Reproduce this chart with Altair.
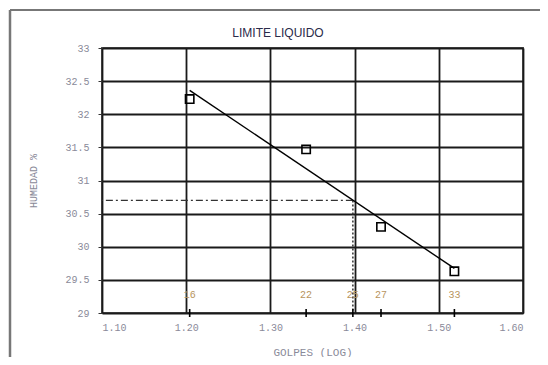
import altair as alt
import pandas as pd

# data
golpes = [16, 22, 27, 33]
humedad = [32.23, 31.47, 30.30, 29.63]
golpes_ll = [25]
limite_liquido = [30.7]
label_golpes = [16, 22, 25, 27, 33]

x_ticks = [1.10, 1.20, 1.30, 1.40, 1.50, 1.60]
y_ticks = [29, 29.5, 30, 30.5, 31, 31.5, 32, 32.5, 33]

pts = pd.DataFrame({"golpes": golpes, "humedad": humedad})
ll = pd.DataFrame({"golpes": golpes_ll, "ll": limite_liquido})
lab = pd.DataFrame({"golpes": label_golpes})
one = pd.DataFrame({"k": [0]})

MONO = "Liberation Mono"
W, H = 421, 265

xs = alt.Scale(domain=[1.10, 1.60], nice=False, zero=False)
ys = alt.Scale(domain=[29, 33], nice=False, zero=False)

x_axis = alt.Axis(values=x_ticks, format=".2f", title="GOLPES (LOG)",
                  labelFont=MONO, labelFontSize=10, labelColor="#8a8a99",
                  labelPadding=9, ticks=False, domain=False,
                  grid=True, gridColor="#1a1a1a", gridWidth=1.8,
                  titleFont=MONO, titleFontSize=11, titleFontWeight="normal",
                  titleColor="#8a8a99", titlePadding=14)
y_axis = alt.Axis(values=y_ticks, format="~g", title="HUMEDAD %",
                  labelFont=MONO, labelFontSize=10, labelColor="#8a8a99",
                  labelPadding=9, tickSize=4, tickColor="#333", domain=False,
                  labelOverlap=False,
                  grid=True, gridColor="#1a1a1a", gridWidth=1.8,
                  titleFont=MONO, titleFontSize=10, titleFontWeight="normal",
                  titleColor="#8a8a99", titlePadding=26)


def X(f):
    return alt.X(f, scale=xs, axis=x_axis)


def Y(f):
    return alt.Y(f, scale=ys, axis=y_axis)


base = alt.Chart(pts).transform_calculate(lg="log(datum.golpes)/LN10")

points = base.mark_point(shape="square", filled=False, size=70,
                         stroke="black", strokeWidth=1.6, opacity=1).encode(
    x=X("lg:Q"), y=Y("humedad:Q"))

trend = base.transform_regression("lg", "humedad").mark_line(
    color="black", strokeWidth=1.4).encode(x=X("lg:Q"), y=Y("humedad:Q"))

llbase = alt.Chart(ll).transform_calculate(lg="log(datum.golpes)/LN10")
hline = llbase.mark_rule(color="#333", strokeWidth=1.3,
                         strokeDash=[7, 3, 2, 3]).encode(
    x=X("lg:Q"), x2=alt.value(0), y=Y("ll:Q"))
vline = llbase.mark_rule(color="#333", strokeWidth=1.5,
                         strokeDash=[2, 2]).encode(
    x=X("lg:Q"), y=Y("ll:Q"), y2=alt.value(H))

labbase = alt.Chart(lab).transform_calculate(lg="log(datum.golpes)/LN10")
labels = labbase.mark_text(font=MONO, fontSize=10, color="#b8955e",
                           baseline="middle").encode(
    x=X("lg:Q"), y=alt.value(H - 18), text="golpes:N")
ticks = labbase.mark_rule(color="black", strokeWidth=1.6).encode(
    x=X("lg:Q"), y=alt.value(H - 4), y2=alt.value(H + 4))

title = alt.Chart(one).mark_text(font="Liberation Sans", fontSize=12,
                                 fontWeight=500, color="#2b2b4a",
                                 baseline="middle").encode(
    x=alt.value(176), y=alt.value(-15), text=alt.value("LIMITE LIQUIDO"))

frame_v = alt.Chart(one).mark_rule(color="#777", strokeWidth=2.5).encode(
    x=alt.value(-92), y=alt.value(-38), y2=alt.value(320))
frame_h = alt.Chart(one).mark_rule(color="#777", strokeWidth=2).encode(
    x=alt.value(-92), x2=alt.value(440), y=alt.value(-38))

chart = alt.layer(points, frame_v, frame_h, hline, vline, trend, ticks, labels, title).properties(
    width=W, height=H,
    autosize=alt.AutoSizeParams(type="none"),
    padding={"left": 94, "top": 40, "right": 17, "bottom": 44},
).configure_view(stroke="#555", strokeWidth=2)

chart.save("out.html", embed_options={"renderer": "svg", "actions": False})
